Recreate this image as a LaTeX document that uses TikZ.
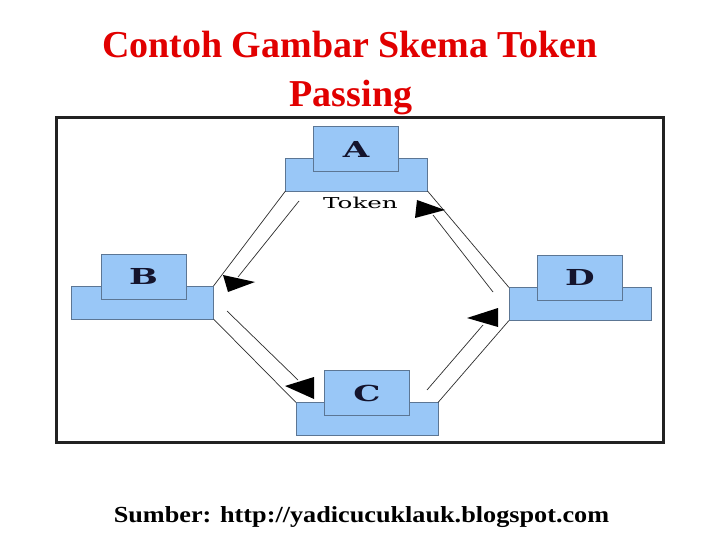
\documentclass[tikz,border=0pt]{standalone}
\usepackage{fontspec}
\setmainfont{Liberation Serif}
\newfontfamily\dvs{DejaVu Serif}
\definecolor{titlered}{RGB}{225,0,0}
\definecolor{boxfill}{RGB}{153,199,247}
\definecolor{boxedge}{RGB}{92,118,148}
\definecolor{linegray}{RGB}{45,45,45}
\definecolor{framegray}{RGB}{34,34,34}
\definecolor{letterink}{RGB}{20,20,45}
\newcommand{\stretchtxt}[1]{\scalebox{1.55}[1]{#1}}
\begin{document}
\begin{tikzpicture}[x=1pt,y=-1pt,
  basebox/.style={draw=boxedge,fill=boxfill,line width=0.8pt,minimum width=142pt,minimum height=33pt,inner sep=0pt,outer sep=0pt},
  topbox/.style={draw=boxedge,fill=boxfill,line width=0.8pt,minimum width=85pt,minimum height=45pt,inner sep=0pt,outer sep=0pt,
    font=\dvs\bfseries\fontsize{22}{22}\selectfont,text=letterink},
  conn/.style={draw=linegray,line width=0.7pt},
  tipfill/.style={fill=black},
  titletext/.style={font=\bfseries\fontsize{38}{38}\selectfont,text=titlered,inner sep=0pt,anchor=base},
  srctext/.style={font=\bfseries\fontsize{23}{23}\selectfont,text=black,inner sep=0pt,anchor=base}]
\useasboundingbox (0,0) rectangle (720,540);
\fill[white] (0,0) rectangle (720,540);
% titles
\node[titletext] (title1) at (350,58) {Contoh Gambar Skema Token};
\node[titletext] (title2) at (351,107) {Passing};
% frame
\draw[framegray,line width=3pt] (56,118) rectangle (663,442);
% nodes
\node[basebox] (Abase) at (356.5,174.5) {};
\node[topbox] (Atop) at (356,149) {\stretchtxt{A}};
\node[basebox] (Bbase) at (142.5,302.5) {};
\node[topbox] (Btop) at (143.5,276.5) {\stretchtxt{B}};
\node[basebox] (Dbase) at (580,304) {};
\node[topbox] (Dtop) at (580,277.5) {\stretchtxt{D}};
\node[basebox] (Cbase) at (367,419) {};
\node[topbox] (Ctop) at (367,393) {\stretchtxt{C}};
% token label
\node[font=\dvs\fontsize{15}{15}\selectfont,inner sep=0pt,anchor=base] (token) at (360.5,209) {\scalebox{1.64}[1]{Token}};
% outer connectors
\draw[conn] (Abase.south west) -- (Bbase.north east);
\draw[conn] (Bbase.south east) -- (Cbase.north west);
\draw[conn] (Cbase.north east) -- (Dbase.south west);
\draw[conn] (Abase.south east) -- (Dbase.north west);
% inner connectors
\coordinate (ab1) at (299,201);
\coordinate (ab2) at (238,277);
\draw[conn] (ab1) -- (ab2);
\coordinate (bc1) at (227,311);
\coordinate (bc2) at (298,380);
\draw[conn] (bc1) -- (bc2);
\coordinate (cd1) at (427,390);
\coordinate (cd2) at (483,325);
\draw[conn] (cd1) -- (cd2);
\coordinate (ad1) at (433,215);
\coordinate (ad2) at (493,292);
\draw[conn] (ad1) -- (ad2);
% arrowheads
\fill[tipfill] (255,282) -- (223,275) -- (228,292) -- cycle;
\fill[tipfill] (285,386) -- (314,377) -- (314,399) -- cycle;
\fill[tipfill] (467,318) -- (498,308) -- (498,327) -- cycle;
\fill[tipfill] (445,210) -- (417,200) -- (415,218) -- cycle;
% source
\node[srctext] (source) at (361.5,522) {\scalebox{1.14}[1]{Sumber: http://yadicucuklauk.blogspot.com}};
\end{tikzpicture}
\end{document}
